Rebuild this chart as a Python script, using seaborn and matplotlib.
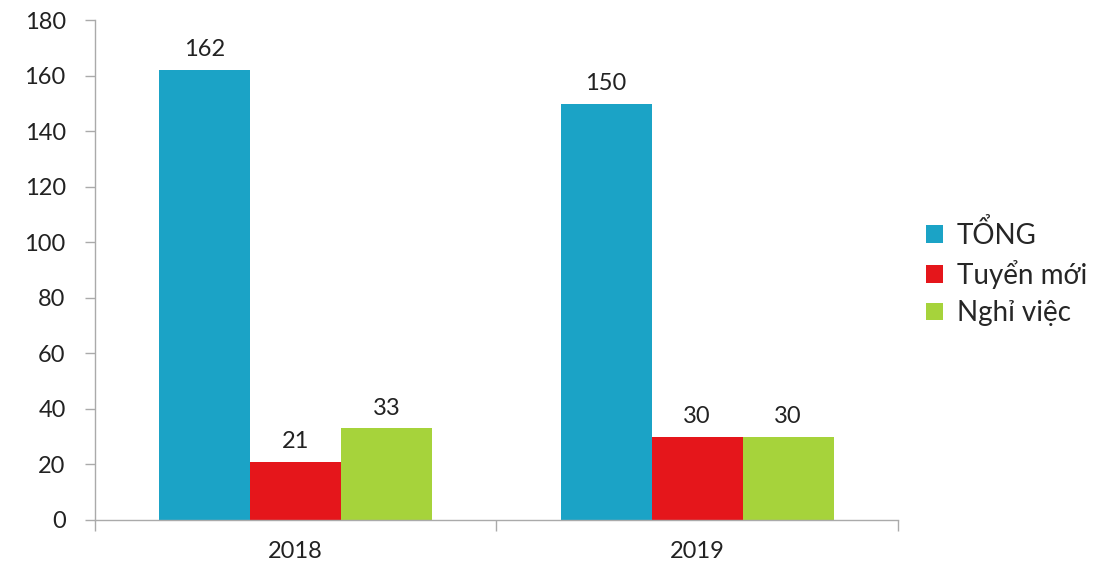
import pandas as pd
import numpy as np
import matplotlib
matplotlib.use("Agg")
import matplotlib.pyplot as plt
import seaborn as sns

# data
years = ["2018", "2019"]
series = ["TỔNG", "Tuyển mới", "Nghỉ việc"]
tong = [162, 150]
tuyen_moi = [21, 30]
nghi_viec = [33, 30]
colors = ["#1ba3c6", "#e5161b", "#a6d33b"]

df = pd.DataFrame({
    "year": years * 3,
    "series": [series[0]] * 2 + [series[1]] * 2 + [series[2]] * 2,
    "value": tong + tuyen_moi + nghi_viec,
})

sns.set_style("white")
plt.rcParams["font.family"] = ["Lato", "DejaVu Sans"]

fig = plt.figure(figsize=(11.03, 5.62), dpi=100)
ax = fig.add_axes([0.086, 0.075, 0.728, 0.889])

sns.barplot(data=df, x="year", y="value", hue="series", hue_order=series,
            palette=colors, width=0.68, saturation=1, linewidth=0, ax=ax, legend=True)

for c in ax.containers:
    ax.bar_label(c, fmt="%d", padding=7, fontsize=17, color="#222222")

ax.set_ylim(0, 180)
ax.set_xlim(-0.5, 1.5)
ax.set_yticks(np.arange(0, 181, 20))
ax.set_xlabel("")
ax.set_ylabel("")

# ticks at category boundaries, like the original
ax.set_xticks([-0.5, 0.5, 1.5], minor=True)
ax.tick_params(axis="x", which="major", length=0, pad=15, labelsize=17, labelcolor="#222222")
ax.tick_params(axis="x", which="minor", bottom=True, length=8, width=1,
               color="#aaaaaa", direction="out")
ax.tick_params(axis="y", left=True, length=7, width=1, color="#aaaaaa", direction="out",
               pad=14, labelsize=17, labelcolor="#222222")

for s in ["top", "right"]:
    ax.spines[s].set_visible(False)
for s in ["left", "bottom"]:
    ax.spines[s].set_color("#aaaaaa")
    ax.spines[s].set_linewidth(1)

ax.legend(loc="center left", bbox_to_anchor=(0.817, 0.515), bbox_transform=fig.transFigure,
          frameon=False, fontsize=20, handlelength=0.6, handleheight=0.6,
          handletextpad=0.5, labelspacing=0.4)

fig.savefig("out.png", dpi=100)
